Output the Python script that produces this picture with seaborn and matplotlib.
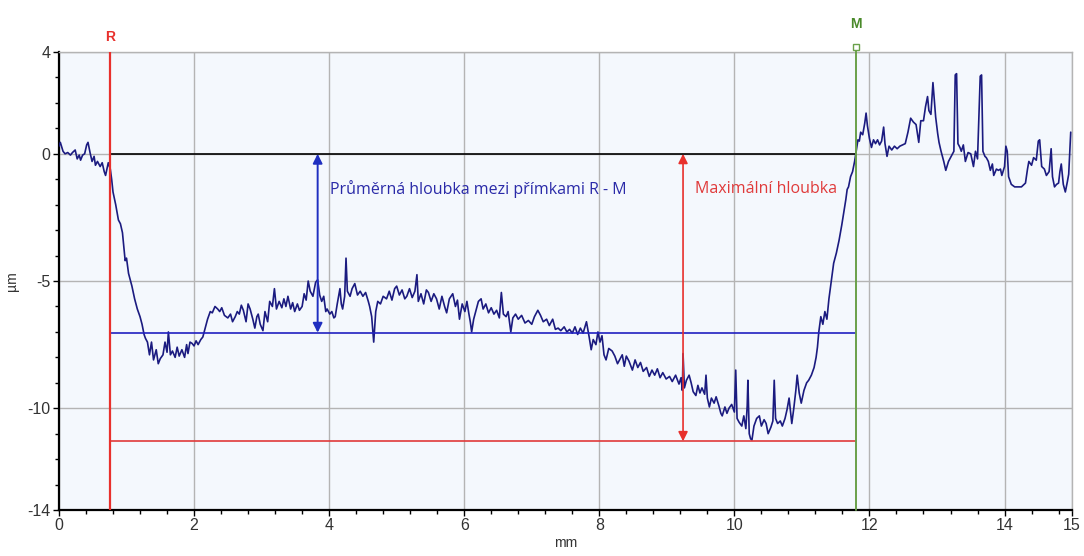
import numpy as np
import pandas as pd
import matplotlib
matplotlib.use("Agg")
import matplotlib.pyplot as plt
from matplotlib.ticker import MultipleLocator, FixedLocator
import seaborn as sns

# profil povrchu (mm, µm)
poloha_mm = [
    0.00, 0.02, 0.06, 0.09, 0.13, 0.17, 0.20, 0.24, 0.27, 0.30, 0.32, 0.35, 0.38, 0.41, 0.43, 0.46,
    0.49, 0.52, 0.54, 0.57, 0.61, 0.64, 0.67, 0.69, 0.73, 0.76, 0.78, 0.80, 0.84, 0.88, 0.91, 0.94,
    0.98, 1.00, 1.03, 1.06, 1.08, 1.12, 1.16, 1.20, 1.23, 1.26, 1.28, 1.31, 1.34, 1.37, 1.40, 1.44,
    1.47, 1.50, 1.54, 1.57, 1.60, 1.62, 1.65, 1.68, 1.72, 1.75, 1.78, 1.82, 1.86, 1.89, 1.91, 1.94,
    1.97, 2.00, 2.03, 2.06, 2.10, 2.13, 2.16, 2.20, 2.24, 2.27, 2.31, 2.35, 2.38, 2.41, 2.45, 2.50,
    2.54, 2.57, 2.61, 2.64, 2.67, 2.70, 2.73, 2.77, 2.80, 2.83, 2.87, 2.90, 2.93, 2.95, 2.98, 3.02,
    3.05, 3.09, 3.12, 3.16, 3.19, 3.22, 3.26, 3.30, 3.33, 3.36, 3.39, 3.43, 3.46, 3.49, 3.53, 3.56,
    3.60, 3.63, 3.66, 3.69, 3.72, 3.76, 3.80, 3.83, 3.86, 3.89, 3.92, 3.95, 3.97, 4.01, 4.04, 4.07,
    4.09, 4.12, 4.16, 4.18, 4.20, 4.23, 4.25, 4.27, 4.31, 4.34, 4.38, 4.42, 4.46, 4.50, 4.54, 4.58,
    4.60, 4.63, 4.66, 4.69, 4.72, 4.76, 4.80, 4.85, 4.89, 4.93, 4.97, 5.00, 5.04, 5.08, 5.12, 5.15,
    5.19, 5.23, 5.27, 5.30, 5.32, 5.36, 5.40, 5.44, 5.47, 5.51, 5.55, 5.59, 5.63, 5.67, 5.71, 5.74,
    5.78, 5.83, 5.87, 5.90, 5.93, 5.97, 6.01, 6.04, 6.07, 6.09, 6.11, 6.14, 6.18, 6.21, 6.25, 6.28,
    6.32, 6.36, 6.40, 6.44, 6.48, 6.52, 6.55, 6.58, 6.62, 6.65, 6.69, 6.72, 6.76, 6.80, 6.85, 6.90,
    6.95, 7.00, 7.04, 7.09, 7.13, 7.17, 7.22, 7.26, 7.31, 7.35, 7.39, 7.43, 7.48, 7.52, 7.56, 7.60,
    7.64, 7.68, 7.72, 7.76, 7.81, 7.85, 7.88, 7.91, 7.95, 7.98, 8.01, 8.04, 8.07, 8.10, 8.14, 8.19,
    8.23, 8.27, 8.30, 8.34, 8.37, 8.40, 8.44, 8.49, 8.53, 8.57, 8.61, 8.65, 8.70, 8.74, 8.78, 8.82,
    8.86, 8.90, 8.94, 8.99, 9.04, 9.08, 9.13, 9.18, 9.21, 9.23, 9.24, 9.26, 9.29, 9.33, 9.36, 9.39,
    9.43, 9.46, 9.49, 9.52, 9.56, 9.58, 9.60, 9.63, 9.66, 9.70, 9.73, 9.77, 9.80, 9.82, 9.86, 9.89,
    9.92, 9.96, 10.00, 10.02, 10.04, 10.07, 10.11, 10.14, 10.17, 10.19, 10.20, 10.22, 10.24, 10.26, 10.29, 10.33,
    10.37, 10.40, 10.44, 10.47, 10.50, 10.54, 10.57, 10.59, 10.61, 10.64, 10.68, 10.71, 10.75, 10.78, 10.81, 10.83,
    10.85, 10.88, 10.91, 10.93, 10.96, 10.99, 11.03, 11.07, 11.10, 11.14, 11.18, 11.21, 11.23, 11.25, 11.28, 11.31,
    11.34, 11.37, 11.40, 11.44, 11.47, 11.51, 11.55, 11.59, 11.62, 11.65, 11.67, 11.69, 11.72, 11.75, 11.78, 11.80,
    11.83, 11.85, 11.87, 11.90, 11.93, 11.95, 11.97, 12.00, 12.03, 12.06, 12.09, 12.12, 12.15, 12.18, 12.21, 12.23,
    12.26, 12.29, 12.33, 12.37, 12.41, 12.45, 12.49, 12.53, 12.57, 12.61, 12.65, 12.69, 12.71, 12.73, 12.76, 12.80,
    12.83, 12.86, 12.88, 12.91, 12.94, 12.96, 12.98, 13.01, 13.03, 13.06, 13.10, 13.13, 13.17, 13.21, 13.25, 13.27,
    13.29, 13.31, 13.34, 13.36, 13.39, 13.42, 13.46, 13.50, 13.54, 13.57, 13.60, 13.64, 13.66, 13.68, 13.71, 13.73,
    13.76, 13.79, 13.82, 13.84, 13.88, 13.91, 13.94, 13.96, 14.00, 14.02, 14.04, 14.06, 14.10, 14.15, 14.20, 14.25,
    14.29, 14.31, 14.34, 14.36, 14.40, 14.43, 14.47, 14.50, 14.52, 14.55, 14.59, 14.62, 14.66, 14.69, 14.71, 14.74,
    14.77, 14.80, 14.82, 14.84, 14.87, 14.90, 14.93, 14.95, 14.98,
]
hloubka_um = [
    0.30, 0.45, 0.10, 0.00, 0.05, -0.05, 0.05, 0.15, -0.20, -0.05, -0.25, -0.05, 0.00, 0.35, 0.45, 0.05,
    -0.30, -0.10, -0.45, -0.30, -0.50, -0.35, -0.70, -0.85, -0.35, -0.60, -1.00, -1.50, -2.00, -2.60, -2.75, -3.10,
    -4.20, -4.10, -4.70, -5.00, -5.20, -5.70, -6.10, -6.40, -6.70, -7.10, -7.25, -7.40, -7.90, -7.40, -8.10, -7.70,
    -8.25, -8.05, -7.90, -7.40, -7.80, -7.00, -7.90, -7.75, -8.00, -7.60, -7.95, -7.70, -8.00, -7.50, -7.85, -7.40,
    -7.45, -7.55, -7.35, -7.50, -7.30, -7.20, -6.90, -6.50, -6.20, -6.25, -6.00, -6.10, -6.20, -6.05, -6.35, -6.45,
    -6.30, -6.60, -6.40, -6.20, -6.30, -5.95, -6.15, -6.60, -5.90, -6.10, -6.50, -6.85, -6.40, -6.30, -6.70, -6.95,
    -6.20, -6.60, -5.80, -6.00, -5.30, -6.10, -5.80, -6.05, -5.70, -6.00, -5.60, -6.10, -5.85, -6.20, -5.90, -6.15,
    -6.00, -5.50, -5.75, -5.00, -5.40, -5.60, -5.05, -4.95, -5.55, -5.80, -5.60, -6.20, -6.10, -6.30, -6.20, -6.45,
    -6.40, -5.90, -5.30, -5.90, -6.10, -5.60, -4.10, -5.40, -5.60, -5.30, -5.10, -5.55, -5.40, -5.60, -5.45, -5.80,
    -6.00, -6.40, -7.40, -6.20, -5.80, -5.90, -5.60, -5.70, -5.40, -5.75, -5.30, -5.20, -5.55, -5.35, -5.70, -5.60,
    -5.30, -5.65, -5.40, -4.75, -5.80, -5.50, -5.90, -5.35, -5.45, -5.80, -5.50, -5.70, -6.10, -5.60, -6.00, -6.25,
    -5.70, -5.50, -6.00, -5.75, -6.50, -5.90, -6.20, -5.80, -6.30, -6.60, -7.00, -6.50, -6.10, -5.80, -5.70, -6.10,
    -5.90, -6.25, -6.05, -6.30, -6.15, -6.45, -5.45, -6.30, -6.40, -6.20, -7.00, -6.45, -6.30, -6.50, -6.35, -6.65,
    -6.55, -6.70, -6.40, -6.15, -6.35, -6.60, -6.50, -6.75, -6.50, -6.90, -6.85, -6.95, -6.80, -7.00, -6.90, -7.05,
    -6.80, -7.10, -6.85, -7.05, -6.60, -7.20, -7.70, -7.30, -7.50, -7.00, -7.40, -7.15, -7.90, -8.10, -7.65, -7.75,
    -7.95, -8.25, -8.10, -7.90, -8.35, -7.95, -8.15, -8.50, -8.10, -8.40, -8.20, -8.55, -8.40, -8.75, -8.50, -8.70,
    -8.45, -8.80, -8.60, -8.85, -8.75, -8.95, -8.70, -9.05, -8.80, -9.30, -7.85, -9.20, -8.90, -8.70, -9.00, -9.35,
    -9.50, -9.10, -9.40, -9.20, -9.45, -8.70, -9.60, -9.95, -9.60, -9.80, -9.55, -9.90, -10.20, -10.30, -9.95, -10.20,
    -10.00, -9.85, -10.15, -8.50, -10.40, -10.55, -10.70, -10.30, -10.80, -9.90, -8.90, -11.00, -11.20, -11.25, -10.70, -10.40,
    -10.30, -10.70, -10.45, -10.60, -11.00, -10.75, -10.50, -8.90, -10.40, -10.60, -10.50, -10.70, -10.40, -10.05, -9.60, -10.10,
    -10.60, -10.00, -9.30, -8.70, -9.40, -9.80, -9.30, -9.00, -8.90, -8.70, -8.40, -8.00, -7.60, -7.00, -6.40, -6.70,
    -6.20, -6.50, -5.70, -4.90, -4.30, -3.90, -3.40, -2.80, -2.30, -1.80, -1.40, -1.30, -0.90, -0.70, -0.30, 0.05,
    0.55, 0.50, 0.85, 0.75, 1.20, 1.60, 1.10, 0.60, 0.25, 0.55, 0.40, 0.55, 0.35, 0.50, 1.05, 0.40,
    -0.10, 0.30, 0.15, 0.30, 0.20, 0.30, 0.35, 0.40, 0.85, 1.40, 1.25, 1.15, 0.80, 0.45, 1.30, 1.30,
    1.85, 2.25, 1.70, 1.55, 2.80, 2.10, 1.45, 0.80, 0.45, 0.10, -0.30, -0.65, -0.30, -0.10, 0.10, 3.10,
    3.15, 0.40, 0.25, 0.10, 0.35, -0.30, 0.05, 0.00, -0.50, 0.10, -0.20, 3.05, 3.10, 0.10, -0.10, -0.15,
    -0.30, -0.65, -0.40, -0.85, -0.60, -0.65, -0.60, -0.85, -0.50, 0.30, 0.10, -0.90, -1.20, -1.30, -1.30, -1.30,
    -1.20, -1.15, -0.60, -0.30, -0.45, -0.15, -0.25, 0.50, 0.55, -0.50, -0.60, -0.85, -0.70, 0.20, -0.90, -1.30,
    -1.20, -1.15, -0.70, -0.40, -1.20, -1.50, -1.10, -0.80, 0.85,
]

# přímky R a M, úrovně
primka_R = 0.76
primka_M = 11.80
prumerna_hloubka = -7.03
max_hloubka = -11.30
sipka_prumer_x = 3.83
sipka_max_x = 9.24

x_ticks = [0, 2, 4, 6, 8, 10, 12, 14, 15]
y_ticks = [4, 0, -5, -10, -14]

df = pd.DataFrame({"mm": poloha_mm, "um": hloubka_um})

sns.set_theme(style="white")
plt.rcParams["font.family"] = ["Liberation Sans", "DejaVu Sans"]
plt.rcParams["axes.unicode_minus"] = False  # obyčejný spojovník jako v originále

fig = plt.figure(figsize=(10.84, 5.56), dpi=100)
ax = fig.add_axes([0.0544, 0.0827, 0.9346, 0.8237])
ax.set_facecolor("#f4f8fd")

sns.lineplot(data=df, x="mm", y="um", ax=ax, color="#1b1b80", linewidth=1.2,
             sort=False, estimator=None, zorder=5)

ax.set_xlim(0, 15)
ax.set_ylim(-14, 4)
ax.xaxis.set_major_locator(FixedLocator(x_ticks))
ax.yaxis.set_major_locator(FixedLocator(y_ticks))
ax.xaxis.set_minor_locator(MultipleLocator(0.4))
ax.yaxis.set_minor_locator(MultipleLocator(1))
ax.grid(True, which="major", color="#b4b4b4", linewidth=1.0)
ax.tick_params(which="major", direction="out", length=4, width=1, color="black",
               labelsize=11.5, labelcolor="#333333", pad=2, bottom=True, left=True)
ax.tick_params(which="minor", direction="out", length=3, width=1, color="black",
               bottom=True, left=True)
for s in ["left", "bottom"]:
    ax.spines[s].set_color("black")
    ax.spines[s].set_linewidth(1.6)
for s in ["top", "right"]:
    ax.spines[s].set_color("#b4b4b4")
    ax.spines[s].set_linewidth(1.0)

ax.set_xlabel("mm", fontsize=10, color="#333333", labelpad=2)
ax.set_ylabel("µm", fontsize=10, color="#333333", labelpad=6)

# referenční přímky
ax.hlines(0, primka_R, primka_M, color="black", linewidth=1.2, zorder=3)
ax.hlines(prumerna_hloubka, primka_R, primka_M, color="#2020c0", linewidth=1.2, zorder=6)
ax.hlines(max_hloubka, primka_R, primka_M, color="#e03a3a", linewidth=1.2, zorder=6)
ax.axvline(primka_R, color="#e8302c", linewidth=1.6, zorder=7)
ax.plot([primka_M, primka_M], [0, 1.011], transform=ax.get_xaxis_transform(),
        color="#6aa04a", linewidth=1.4, zorder=7, clip_on=False)
ax.plot([primka_M], [1.011], transform=ax.get_xaxis_transform(), marker="s",
        markersize=5, markerfacecolor="white", markeredgecolor="#6aa04a",
        clip_on=False, zorder=8)
ax.text(primka_R, 1.033, "R", transform=ax.get_xaxis_transform(), color="#e8302c",
        fontsize=10, fontweight="bold", ha="center", va="center")
ax.text(primka_M, 1.061, "M", transform=ax.get_xaxis_transform(), color="#4a8a2a",
        fontsize=10, fontweight="bold", ha="center", va="center")

# šipky
ax.annotate("", xy=(sipka_prumer_x, 0), xytext=(sipka_prumer_x, prumerna_hloubka),
            arrowprops=dict(arrowstyle="<|-|>", color="#1f2fc0", lw=1.4,
                            mutation_scale=14, shrinkA=0, shrinkB=0), zorder=9)
ax.annotate("", xy=(sipka_max_x, 0), xytext=(sipka_max_x, max_hloubka),
            arrowprops=dict(arrowstyle="<|-|>", color="#e8302c", lw=1.2,
                            mutation_scale=14, shrinkA=0, shrinkB=0), zorder=9)
ax.text(4.01, -1.4, "Průměrná hloubka mezi přímkami R - M", color="#2a2aa8",
        fontsize=11.5, ha="left", va="center", family=["Open Sans", "DejaVu Sans"])
ax.text(9.41, -1.4, "Maximální hloubka", color="#e03a3a",
        fontsize=11.5, ha="left", va="center", family=["Open Sans", "DejaVu Sans"])

fig.savefig("out.png", dpi=100)
